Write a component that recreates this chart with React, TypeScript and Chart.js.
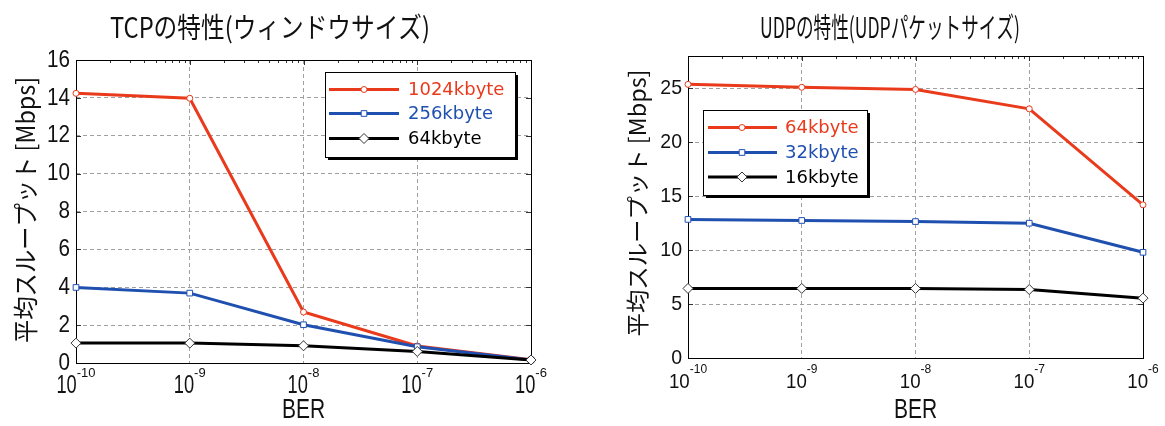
import React, { useEffect, useRef } from 'react';
import { Chart, registerables } from 'chart.js';

Chart.register(...registerables);

// ---------------- data ----------------
const berValues = [1e-10, 1e-9, 1e-8, 1e-7, 1e-6];
const berExponents = ['-10', '-9', '-8', '-7', '-6'];
const minorMultipliers = [2, 3, 4, 5, 6, 7, 8, 9];

const tcpTitle = 'TCPの特性(ウィンドウサイズ)';
const tcpLabels = ['1024kbyte', '256kbyte', '64kbyte'];
const tcp1024 = [14.24, 13.98, 2.69, 0.9, 0.17];
const tcp256 = [3.99, 3.69, 2.02, 0.86, 0.16];
const tcp64 = [1.05, 1.05, 0.91, 0.61, 0.16];
const tcpYTicks = [0, 2, 4, 6, 8, 10, 12, 14, 16];
const tcpYMax = 16;

const udpTitle = 'UDPの特性(UDPパケットサイズ)';
const udpLabels = ['64kbyte', '32kbyte', '16kbyte'];
const udp64 = [25.37, 25.1, 24.9, 23.1, 14.2];
const udp32 = [12.85, 12.75, 12.65, 12.5, 9.8];
const udp16 = [6.45, 6.45, 6.45, 6.35, 5.55];
const udpYTicks = [0, 5, 10, 15, 20, 25];
const udpYMax = 28;

const yAxisTitle = '平均スループット [Mbps]';
const xAxisTitle = 'BER';

// ---------------- styles ----------------
const RED = '#ea3a1c';
const BLUE = '#1f50b0';
const BLACK = '#000000';
const seriesColors = [RED, BLUE, BLACK];
const seriesPointStyles = ['circle', 'rect', 'rectRot'];
const seriesPointRadius = [3, 4, 5];
const seriesPointBorder = [RED, BLUE, '#333333'];

const NUM_FONT = '"Liberation Sans", Arial, sans-serif';
const JP_FONT = '"Noto Sans CJK JP", "Noto Sans", sans-serif';
const LEGEND_FONT = '"DejaVu Sans", sans-serif';

type Spec = {
  width: number;
  height: number;
  offsetX: number;
  padding: { left: number; top: number; right: number; bottom: number };
  yMax: number;
  yTicks: number[];
  series: number[][];
  labels: string[];
  title: string;
  titleCx: number;
  titleCy: number;
  titleW: number;
  titleSize: number;
  yLabelCx: number;
  yLabelCy: number;
  yLabelLen: number;
  yLabelSize: number;
  yTickX: number;
  yTickSize: number;
  yTickSx: number;
  xTickSize: number;
  xTickSx: number;
  xTickBase: number;
  supSize: number;
  supBase: number;
  berBase: number;
  berSize: number;
  berSx: number;
  legend: {
    x0: number; y0: number; x1: number; y1: number;
    rows: number[]; lx0: number; lx1: number; mx: number; tx: number;
  };
};

function drawText(
  ctx: CanvasRenderingContext2D, s: string, x: number, y: number, font: string,
  color: string, align: CanvasTextAlign, baseline: CanvasTextBaseline, sx = 1, rot = 0
) {
  ctx.save();
  ctx.font = font;
  ctx.fillStyle = color;
  ctx.textAlign = align;
  ctx.textBaseline = baseline;
  ctx.translate(x, y);
  if (rot) ctx.rotate(rot);
  ctx.scale(sx, 1);
  ctx.fillText(s, 0, 0);
  ctx.restore();
}

function fitScale(ctx: CanvasRenderingContext2D, s: string, font: string, w: number) {
  ctx.save();
  ctx.font = font;
  const n = ctx.measureText(s).width;
  ctx.restore();
  return n > 0 ? w / n : 1;
}

function drawMarker(ctx: CanvasRenderingContext2D, style: string, x: number, y: number, r: number, stroke: string) {
  ctx.save();
  ctx.fillStyle = '#ffffff';
  ctx.strokeStyle = stroke;
  ctx.lineWidth = 1;
  ctx.beginPath();
  if (style === 'circle') {
    ctx.arc(x, y, r, 0, Math.PI * 2);
  } else if (style === 'rect') {
    const h = Math.SQRT1_2 * r;
    ctx.rect(x - h, y - h, 2 * h, 2 * h);
  } else {
    ctx.moveTo(x, y - r);
    ctx.lineTo(x + r, y);
    ctx.lineTo(x, y + r);
    ctx.lineTo(x - r, y);
    ctx.closePath();
  }
  ctx.fill();
  ctx.stroke();
  ctx.restore();
}

function makePlugin(spec: Spec) {
  return {
    id: 'decor',
    beforeDatasetsDraw(chart: any) {
      const ctx: CanvasRenderingContext2D = chart.ctx;
      const a = chart.chartArea;
      const xs = chart.scales.x;
      const ys = chart.scales.y;
      ctx.save();
      ctx.strokeStyle = '#333';
      ctx.lineWidth = 1;
      // minor ticks on top edge (log)
      ctx.beginPath();
      for (let i = 0; i < berValues.length - 1; i++) {
        for (const m of minorMultipliers) {
          const px = Math.round(xs.getPixelForValue(berValues[i] * m)) + 0.5;
          ctx.moveTo(px, a.top);
          ctx.lineTo(px, a.top + 3);
        }
      }
      for (const v of berValues) {
        const px = Math.round(xs.getPixelForValue(v)) + 0.5;
        ctx.moveTo(px, a.top);
        ctx.lineTo(px, a.top + 5);
      }
      // major ticks on left and right edges
      for (const v of spec.yTicks) {
        const py = Math.round(ys.getPixelForValue(v)) + 0.5;
        ctx.moveTo(a.left, py);
        ctx.lineTo(a.left + 5, py);
        ctx.moveTo(a.right, py);
        ctx.lineTo(a.right - 5, py);
      }
      ctx.stroke();
      // box
      ctx.strokeStyle = '#000';
      ctx.strokeRect(Math.round(a.left) + 0.5, Math.round(a.top) + 0.5,
        Math.round(a.right - a.left), Math.round(a.bottom - a.top));
      ctx.restore();
    },
    afterDraw(chart: any) {
      const ctx: CanvasRenderingContext2D = chart.ctx;
      const xs = chart.scales.x;
      const ys = chart.scales.y;
      // title
      const tFont = `${spec.titleSize}px ${JP_FONT}`;
      drawText(ctx, spec.title, spec.titleCx, spec.titleCy, tFont, '#111', 'center', 'middle',
        fitScale(ctx, spec.title, tFont, spec.titleW));
      // y axis title
      const yFont = `${spec.yLabelSize}px ${JP_FONT}`;
      drawText(ctx, yAxisTitle, spec.yLabelCx, spec.yLabelCy, yFont, '#111', 'center', 'middle',
        fitScale(ctx, yAxisTitle, yFont, spec.yLabelLen), -Math.PI / 2);
      // y tick labels
      for (const v of spec.yTicks) {
        drawText(ctx, String(v), spec.yTickX, ys.getPixelForValue(v), `${spec.yTickSize}px ${NUM_FONT}`,
          '#111', 'right', 'middle', spec.yTickSx);
      }
      // x tick labels 10^n
      const bFont = `${spec.xTickSize}px ${NUM_FONT}`;
      const sFont = `${spec.supSize}px ${NUM_FONT}`;
      berValues.forEach((v, i) => {
        ctx.save();
        ctx.font = bFont;
        const wb = ctx.measureText('10').width * spec.xTickSx;
        ctx.font = sFont;
        const ws = ctx.measureText(berExponents[i]).width;
        ctx.restore();
        const cx = xs.getPixelForValue(v);
        const start = cx - (wb + ws) / 2;
        drawText(ctx, '10', start, spec.xTickBase, bFont, '#111', 'left', 'alphabetic', spec.xTickSx);
        drawText(ctx, berExponents[i], start + wb, spec.supBase, sFont, '#111', 'left', 'alphabetic', 1);
      });
      // x axis title
      const a = chart.chartArea;
      drawText(ctx, xAxisTitle, (a.left + a.right) / 2, spec.berBase, `${spec.berSize}px ${NUM_FONT}`,
        '#111', 'center', 'alphabetic', spec.berSx);
      // legend
      const L = spec.legend;
      ctx.save();
      ctx.fillStyle = '#000';
      ctx.fillRect(L.x0 + 3, L.y0 + 3, L.x1 - L.x0, L.y1 - L.y0);
      ctx.fillStyle = '#fff';
      ctx.fillRect(L.x0, L.y0, L.x1 - L.x0, L.y1 - L.y0);
      ctx.strokeStyle = '#000';
      ctx.lineWidth = 1;
      ctx.strokeRect(L.x0 + 0.5, L.y0 + 0.5, L.x1 - L.x0, L.y1 - L.y0);
      ctx.restore();
      spec.labels.forEach((lab, i) => {
        const y = L.rows[i];
        ctx.save();
        ctx.strokeStyle = seriesColors[i];
        ctx.lineWidth = 3;
        ctx.beginPath();
        ctx.moveTo(L.lx0, y);
        ctx.lineTo(L.lx1, y);
        ctx.stroke();
        ctx.restore();
        drawMarker(ctx, seriesPointStyles[i], L.mx, y, seriesPointRadius[i], seriesPointBorder[i]);
        drawText(ctx, lab, L.tx, y + 1, `18px ${LEGEND_FONT}`, seriesColors[i], 'left', 'middle', 1);
      });
    },
  };
}

function makeConfig(spec: Spec): any {
  const grid = { color: '#a0a0a0', lineWidth: 1, drawTicks: false };
  const border = { display: false, dash: [4, 3] };
  return {
    type: 'line',
    data: {
      datasets: spec.series.map((vals, i) => ({
        label: spec.labels[i],
        data: berValues.map((x, j) => ({ x, y: vals[j] })),
        borderColor: seriesColors[i],
        borderWidth: 3,
        pointStyle: seriesPointStyles[i],
        pointRadius: seriesPointRadius[i],
        pointBackgroundColor: '#ffffff',
        pointBorderColor: seriesPointBorder[i],
        pointBorderWidth: 1,
        tension: 0,
        clip: false,
        fill: false,
      })).reverse(),
    },
    options: {
      animation: false,
      responsive: false,
      maintainAspectRatio: false,
      events: [],
      layout: { padding: spec.padding },
      plugins: { legend: { display: false }, title: { display: false }, tooltip: { enabled: false } },
      scales: {
        x: {
          type: 'logarithmic',
          min: berValues[0],
          max: berValues[berValues.length - 1],
          afterBuildTicks: (s: any) => { s.ticks = berValues.map((v) => ({ value: v })); },
          afterFit: (s: any) => { s.height = 0; },
          ticks: { display: false },
          grid,
          border,
        },
        y: {
          type: 'linear',
          min: 0,
          max: spec.yMax,
          afterBuildTicks: (s: any) => { s.ticks = spec.yTicks.map((v) => ({ value: v })); },
          afterFit: (s: any) => { s.width = 0; },
          ticks: { display: false },
          grid,
          border,
        },
      },
    },
    plugins: [makePlugin(spec)],
  };
}

const tcpSpec: Spec = {
  width: 580, height: 426, offsetX: 0,
  padding: { left: 76, top: 60, right: 49, bottom: 63 },
  yMax: tcpYMax, yTicks: tcpYTicks,
  series: [tcp1024, tcp256, tcp64], labels: tcpLabels,
  title: tcpTitle, titleCx: 270, titleCy: 27, titleW: 320, titleSize: 28,
  yLabelCx: 25, yLabelCy: 210, yLabelLen: 266, yLabelSize: 25,
  yTickX: 70, yTickSize: 24, yTickSx: 0.86,
  xTickSize: 25, xTickSx: 0.73, xTickBase: 393, supSize: 13, supBase: 377,
  berBase: 418, berSize: 28, berSx: 0.75,
  legend: { x0: 325, y0: 72, x1: 515, y1: 157, rows: [89.5, 113.5, 138.5], lx0: 329, lx1: 399, mx: 364, tx: 408 },
};

const udpSpec: Spec = {
  width: 585, height: 426, offsetX: 580,
  padding: { left: 108, top: 56, right: 22, bottom: 68 },
  yMax: udpYMax, yTicks: udpYTicks,
  series: [udp64, udp32, udp16], labels: udpLabels,
  title: udpTitle, titleCx: 310, titleCy: 27, titleW: 260, titleSize: 28,
  yLabelCx: 57, yLabelCy: 203, yLabelLen: 267, yLabelSize: 23,
  yTickX: 102, yTickSize: 21, yTickSx: 0.93,
  xTickSize: 21, xTickSx: 0.89, xTickBase: 388, supSize: 12, supBase: 373,
  berBase: 418, berSize: 28, berSx: 0.75,
  legend: { x0: 123, y0: 110, x1: 287, y1: 195, rows: [127.5, 152.5, 177], lx0: 128, lx1: 197, mx: 162, tx: 205 },
};

function ChartCanvas({ spec }: { spec: Spec }) {
  const ref = useRef<HTMLCanvasElement | null>(null);
  useEffect(() => {
    if (!ref.current) return;
    const chart = new Chart(ref.current, makeConfig(spec));
    return () => chart.destroy();
  }, [spec]);
  return (
    <canvas
      ref={ref}
      width={spec.width}
      height={spec.height}
      style={{ position: 'absolute', left: spec.offsetX, top: 0, width: spec.width, height: spec.height, display: 'block' }}
    />
  );
}

export default function App() {
  return (
    <div style={{ position: 'absolute', left: 0, top: 0, width: 1165, height: 426, background: '#ffffff', overflow: 'hidden' }}>
      <ChartCanvas spec={tcpSpec} />
      <ChartCanvas spec={udpSpec} />
    </div>
  );
}
